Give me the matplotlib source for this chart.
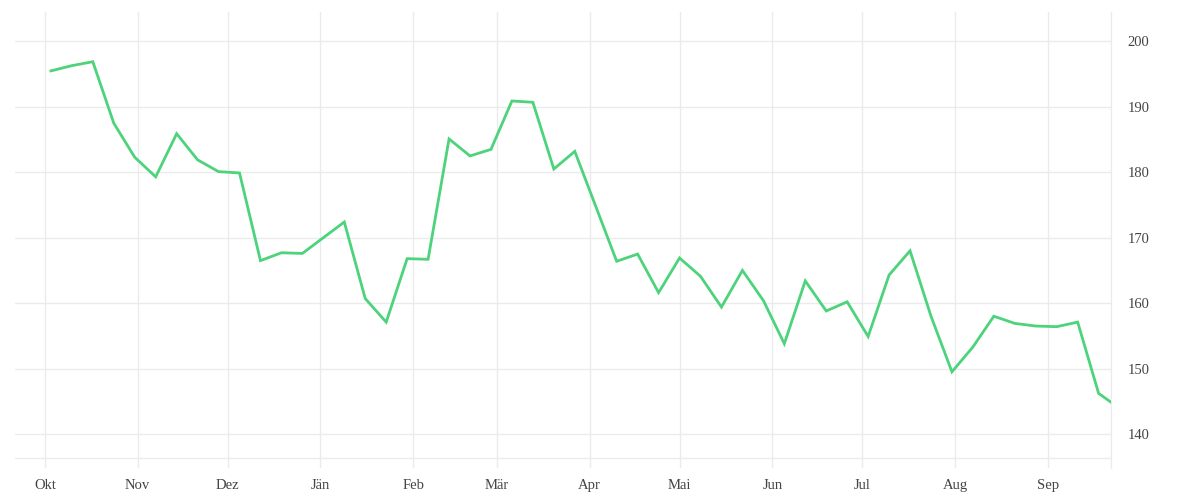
import datetime as dt
import matplotlib
matplotlib.use("Agg")
import matplotlib.pyplot as plt

# weekly values
start = dt.date(2022, 10, 3)
weekly_values = [
    195.5, 196.3, 196.9, 187.5, 182.3, 179.3, 185.9, 181.9, 180.1, 179.9,
    166.5, 167.7, 167.6, 170.0, 172.4, 160.7, 157.1, 166.8, 166.7, 185.1,
    182.5, 183.5, 190.9, 190.7, 180.5, 183.2, 174.8, 166.4, 167.5, 161.6,
    166.9, 164.1, 159.4, 165.0, 160.4, 153.8, 163.4, 158.8, 160.2, 154.9,
    164.3, 168.0, 158.0, 149.5, 153.3, 158.0, 156.9, 156.5, 156.4, 157.1,
    146.2,
]
dates = [start + dt.timedelta(weeks=i) for i in range(len(weekly_values))]
dates.append(dt.date(2023, 9, 22))
values = weekly_values + [144.9]

month_ticks = [dt.date(2022 + (9 + i) // 12, (9 + i) % 12 + 1, 1) for i in range(12)]
month_labels = ["Okt", "Nov", "Dez", "Jän", "Feb", "Mär", "Apr", "Mai", "Jun", "Jul", "Aug", "Sep"]
y_ticks = [140, 150, 160, 170, 180, 190, 200]

grid_col = "#ebebeb"
text_col = "#444444"

fig = plt.figure(figsize=(12, 5), dpi=100)
ax = fig.add_axes([0.0125, 0.064, 0.913, 0.912])

ax.plot(dates, values, color="#4cd37b", linewidth=2.0, solid_joinstyle="miter", zorder=3)

ax.set_xlim(dt.date(2022, 9, 21), dt.date(2023, 9, 22))
ax.set_ylim(134.8, 204.5)

ax.set_xticks(month_ticks)
ax.set_xticklabels(month_labels, va="baseline")
ax.set_yticks(y_ticks)
ax.yaxis.tick_right()

ax.grid(True, color=grid_col, linewidth=1)
ax.set_axisbelow(True)
ax.axhline(136.3, color=grid_col, linewidth=1, zorder=1)

for side in ["top", "left", "bottom"]:
    ax.spines[side].set_visible(False)
ax.spines["right"].set_color(grid_col)
ax.spines["right"].set_linewidth(1)

ax.tick_params(axis="both", length=0, labelsize=10.5, labelcolor=text_col)
ax.tick_params(axis="x", pad=15)
ax.tick_params(axis="y", pad=12)
for lab in ax.get_xticklabels() + ax.get_yticklabels():
    lab.set_family("Liberation Serif")

fig.savefig("out.png", dpi=100, facecolor="white")
